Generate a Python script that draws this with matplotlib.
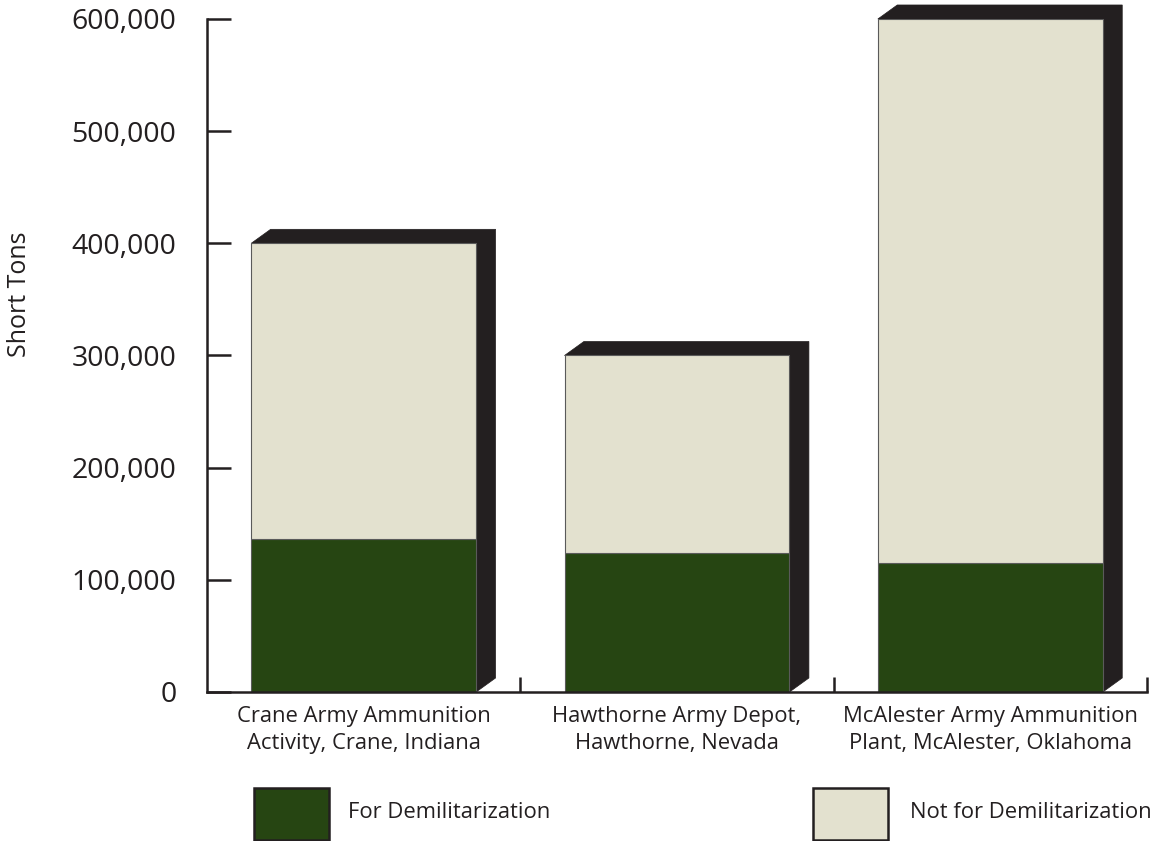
import matplotlib
matplotlib.use("Agg")
import matplotlib.pyplot as plt
from matplotlib.patches import Polygon, Rectangle

plt.rcParams['font.family'] = ['Open Sans', 'DejaVu Sans']

categories = ["Crane Army Ammunition\nActivity, Crane, Indiana",
              "Hawthorne Army Depot,\nHawthorne, Nevada",
              "McAlester Army Ammunition\nPlant, McAlester, Oklahoma"]
for_demil = [136000, 124000, 115000]
not_for_demil = [264000, 176000, 485000]
series_names = ["For Demilitarization", "Not for Demilitarization"]
yticks = [0, 100000, 200000, 300000, 400000, 500000, 600000]
ytick_labels = ["0", "100,000", "200,000", "300,000", "400,000", "500,000", "600,000"]

GREEN = "#264512"
BEIGE = "#E3E1CF"
DARK = "#231F20"
EDGE = "#5a5a5a"

W, H = 1153, 841
fig = plt.figure(figsize=(W / 100, H / 100), dpi=100)
ax = fig.add_axes([207 / W, (H - 692) / H, (1147 - 207) / W, (692 - 19) / H])

xs = list(range(len(categories)))
width = 0.718
ax.set_xlim(-0.5, 2.5)
ax.set_ylim(0, 600000)

# 3D depth offsets (in data units)
ddx = 0.062
ddy = 12500

for x, g, n in zip(xs, for_demil, not_for_demil):
    top = g + n
    xl, xr = x - width / 2, x + width / 2
    poly = Polygon([(xl, top), (xl + ddx, top + ddy), (xr + ddx, top + ddy),
                    (xr + ddx, ddy), (xr, 0), (xr, top)],
                   closed=True, facecolor=DARK, edgecolor=DARK, lw=0.5,
                   clip_on=False, zorder=1)
    ax.add_patch(poly)

ax.bar(xs, for_demil, width=width, color=GREEN, edgecolor=EDGE, lw=0.8, zorder=2)
ax.bar(xs, not_for_demil, bottom=for_demil, width=width, color=BEIGE,
       edgecolor=EDGE, lw=0.8, zorder=2)

for s in ["top", "right"]:
    ax.spines[s].set_visible(False)
for s in ["left", "bottom"]:
    ax.spines[s].set_color(DARK)
    ax.spines[s].set_linewidth(1.8)
    ax.spines[s].set_zorder(3)

ax.set_yticks(yticks)
ax.set_yticklabels(ytick_labels)
ax.tick_params(axis="y", direction="in", length=17, width=1.8, color=DARK,
               pad=22, labelsize=20.5, labelcolor=DARK)

ax.set_xticks([0.5, 1.5, 2.5])
ax.set_xticklabels([])
ax.tick_params(axis="x", which="major", direction="in", length=11, width=1.8, color=DARK)
ax.set_xticks(xs, minor=True)
ax.set_xticklabels(categories, minor=True, fontsize=15.8, color=DARK, linespacing=1.4)
ax.tick_params(axis="x", which="minor", length=0, pad=10)

fig.text(20 / W, 1 - 294.5 / H, "Short Tons", rotation=90, ha="center", va="center",
         fontsize=18, color=DARK)

# legend
def legend_item(x0, x1, y0, y1, color, label, tx):
    fig.patches.append(Rectangle((x0 / W, 1 - y1 / H), (x1 - x0) / W, (y1 - y0) / H,
                                 transform=fig.transFigure, facecolor=color,
                                 edgecolor=DARK, lw=1.8))
    fig.text(tx / W, 1 - 812 / H, label, ha="left", va="center", fontsize=15.8, color=DARK)

legend_item(254, 329, 788, 840, GREEN, series_names[0], 348)
legend_item(813, 888, 788, 840, BEIGE, series_names[1], 910)

fig.savefig("out.png", dpi=100)
